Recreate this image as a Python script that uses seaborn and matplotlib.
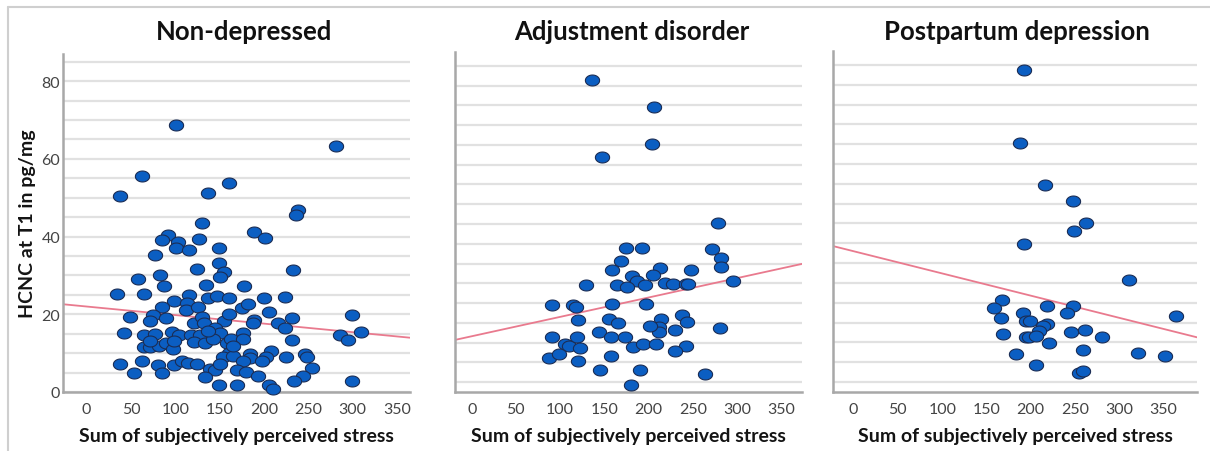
import numpy as np
import pandas as pd
import seaborn as sns
import matplotlib.pyplot as plt
from matplotlib.lines import Line2D
from matplotlib.ticker import MultipleLocator

# ======================
# DATA
# ======================

panel_titles = ["Non-depressed", "Adjustment disorder", "Postpartum depression"]
x_label = "Sum of subjectively perceived stress"
y_label = "HCNC at T1 in pg/mg"
x_ticks = [0, 50, 100, 150, 200, 250, 300, 350]
y_ticks = [0, 20, 40, 60, 80]

nondep_stress = [
    100.5, 280.8, 62.9, 37.3, 160.0, 137.0, 237.9, 236.4, 129.8, 91.5,
    85.1, 102.7, 101.2, 127.2, 115.5, 149.0, 188.9, 201.0, 76.8, 124.6,
    148.7, 154.7, 150.2, 82.4, 57.6, 233.0, 135.1, 87.7, 176.9, 33.9,
    64.4, 115.5, 137.0, 146.8, 160.0, 199.8, 223.6, 99.0, 113.7, 112.5,
    85.1, 126.1, 175.4, 182.5, 48.9, 74.9, 90.0, 71.5, 121.6, 129.8,
    132.9, 154.7, 160.0, 188.6, 187.8, 205.1, 231.8, 215.3, 223.6, 299.2,
    41.8, 64.4, 76.8, 96.0, 103.9, 117.4, 127.6, 145.3, 150.2, 176.5,
    285.7, 309.0, 295.1, 231.5, 64.4, 71.9, 81.7, 90.0, 97.1, 98.6,
    121.6, 133.6, 143.0, 158.4, 163.3, 175.8, 160.7, 154.3, 164.5, 183.7,
    184.4, 207.4, 202.5, 197.6, 176.1, 245.8, 248.8, 224.3, 37.3, 62.5,
    80.2, 99.0, 108.0, 114.4, 124.2, 53.4, 84.7, 139.3, 145.3, 150.5,
    169.7, 179.9, 133.2, 192.7, 254.4, 243.5, 234.1, 299.6, 149.0, 169.4,
    205.5, 210.4, 137.0, 71.9, 165.2,
]
nondep_hcnc = [
    68.8, 63.3, 55.6, 50.5, 53.9, 51.2, 46.8, 45.6, 43.5, 40.5,
    39.0, 38.5, 37.0, 39.4, 36.6, 37.0, 41.1, 39.7, 35.3, 31.7,
    33.3, 30.9, 29.7, 30.2, 29.2, 31.3, 27.6, 27.3, 27.4, 25.3,
    25.2, 25.0, 24.2, 24.7, 24.1, 24.2, 24.4, 23.3, 23.0, 21.2,
    21.9, 21.9, 21.6, 22.7, 19.4, 19.7, 19.0, 18.2, 17.8, 19.3,
    17.8, 18.3, 20.2, 18.5, 17.8, 20.7, 19.0, 17.8, 16.6, 19.9,
    15.2, 14.7, 14.9, 15.4, 14.7, 14.7, 14.8, 16.6, 15.2, 15.3,
    14.7, 15.5, 13.5, 13.3, 11.7, 11.7, 11.8, 12.7, 11.1, 13.0,
    12.8, 12.7, 13.7, 12.7, 13.6, 13.6, 10.1, 8.9, 9.2, 9.7,
    8.7, 10.5, 9.1, 8.0, 8.1, 9.9, 9.0, 8.9, 7.3, 8.1,
    6.9, 6.9, 8.1, 7.5, 7.3, 5.0, 4.8, 6.0, 5.6, 7.1,
    5.7, 5.2, 3.8, 4.0, 6.3, 4.2, 2.8, 2.8, 1.9, 1.9,
    1.7, 0.7, 15.7, 13.1, 11.8,
]

adjust_stress = [
    135.8, 206.0, 204.2, 147.5, 278.9, 174.7, 192.1, 271.7, 282.3, 168.7,
    158.5, 212.8, 282.3, 247.5, 181.1, 187.2, 204.5, 129.1, 164.9, 175.5,
    196.2, 219.2, 227.5, 241.9, 244.2, 295.5, 90.6, 114.7, 117.7, 158.9,
    197.0, 120.4, 155.5, 166.0, 213.6, 211.3, 211.9, 202.0, 237.7, 243.4,
    230.2, 280.4, 90.6, 105.7, 110.6, 118.9, 122.6, 143.8, 158.1, 173.6,
    183.0, 194.3, 208.3, 242.3, 230.2, 87.2, 98.5, 120.0, 157.4, 145.3,
    189.8, 180.0, 263.8,
]
adjust_hcnc = [
    76.3, 69.7, 60.3, 56.9, 40.3, 34.0, 34.0, 33.6, 31.5, 30.7,
    28.3, 28.9, 29.1, 28.3, 26.8, 25.6, 27.1, 24.5, 24.5, 24.0,
    24.5, 25.1, 24.7, 24.9, 24.7, 25.5, 19.6, 19.5, 19.0, 19.7,
    19.8, 15.6, 15.9, 15.0, 15.9, 13.9, 12.8, 14.2, 17.1, 15.1,
    13.1, 13.8, 11.3, 9.7, 9.2, 11.5, 8.7, 12.6, 11.4, 11.4,
    8.9, 9.7, 9.7, 9.2, 7.9, 6.2, 7.1, 5.4, 6.6, 3.0,
    3.0, -0.7, 2.0,
]

ppd_stress = [
    192.7, 188.2, 216.4, 247.6, 262.3, 249.2, 192.7, 310.5, 167.1, 158.8,
    218.3, 247.6, 191.2, 240.9, 364.3, 166.7, 194.1, 199.5, 218.7, 213.8,
    209.3, 168.6, 245.4, 261.2, 195.0, 198.0, 205.9, 280.8, 220.6, 258.9,
    321.0, 351.1, 183.7, 205.9, 254.4, 258.9,
]
ppd_hcnc = [
    78.7, 60.2, 49.6, 45.7, 40.2, 38.1, 34.8, 25.7, 20.6, 18.8,
    19.1, 19.3, 17.4, 17.4, 16.6, 16.1, 15.3, 15.3, 14.7, 14.1,
    13.0, 12.1, 12.7, 13.2, 11.4, 11.4, 11.5, 11.3, 9.8, 8.2,
    7.3, 6.6, 7.1, 4.4, 2.4, 2.9,
]

# linear fit lines (intercept, slope) as drawn in the figure
fit_intercepts = [22.0, 11.6, 33.0]
fit_slopes = [-0.022, 0.049, -0.056]

# ======================
# PLOT
# ======================

sns.set_theme(style="white")
plt.rcParams["font.family"] = ["Lato", "DejaVu Sans"]

fig = plt.figure(figsize=(12.1, 4.52), dpi=100)
W, H = 1210, 452

# axes boxes in pixels: left, right, top, bottom
boxes = [(63, 410, 55, 393), (455, 802, 53, 393), (833, 1197, 52, 393)]
xlims = [(-26.7, 364.7), (-18.9, 373.6), (-23.3, 387.7)]
ylims = [(0, 87), (-2.5, 83.5), (-2.5, 83.5)]
title_x = [244, 632, 1017]

groups = [
    (nondep_stress, nondep_hcnc),
    (adjust_stress, adjust_hcnc),
    (ppd_stress, ppd_hcnc),
]

# slightly wide ellipse marker, like the SPSS points
t = np.linspace(0, 2 * np.pi, 48)
ellipse = np.column_stack([1.3 * np.cos(t), np.sin(t)])

for i, (xs, ys) in enumerate(groups):
    l, r, top, bot = boxes[i]
    ax = fig.add_axes([l / W, 1 - bot / H, (r - l) / W, (bot - top) / H])
    df = pd.DataFrame({"stress": xs, "hcnc": ys})

    ax.axline((0, fit_intercepts[i]), slope=fit_slopes[i],
              color="#e97a8e", lw=1.3, zorder=2)
    sns.scatterplot(data=df, x="stress", y="hcnc", ax=ax,
                    marker=ellipse, s=105, color="#0b5ec2",
                    edgecolor="#1b2d55", linewidth=0.8,
                    clip_on=False, zorder=3)

    ax.set_xlim(*xlims[i])
    ax.set_ylim(*ylims[i])
    ax.set_xticks(x_ticks)
    ax.set_yticks(y_ticks)
    ax.yaxis.set_minor_locator(MultipleLocator(5))
    ax.grid(axis="y", which="both", color="#e1e1e1", lw=1.6, zorder=0)
    ax.set_axisbelow(True)
    ax.tick_params(which="both", length=0, labelsize=11.5, labelcolor="#444444")
    ax.tick_params(axis="x", pad=7)
    ax.tick_params(axis="y", pad=2)

    for side in ["top", "right"]:
        ax.spines[side].set_visible(False)
    for side in ["left", "bottom"]:
        ax.spines[side].set_color("#a8a8a8")
        ax.spines[side].set_linewidth(1.8)

    ax.set_xlabel(x_label, fontsize=14, fontweight="bold", color="#141414", labelpad=8)
    if i == 0:
        ax.set_ylabel(y_label, fontsize=14, fontweight="bold", color="#141414")
        ax.yaxis.set_label_coords(-0.078, 0.5)
    else:
        ax.set_ylabel("")
        ax.set_yticklabels([])

    fig.text(title_x[i] / W, 1 - 32 / H, panel_titles[i], ha="center", va="center",
             fontsize=18.5, fontweight="bold", color="#111111")

# thin frame lines (top and left) around the figure
fig.add_artist(Line2D([8 / W, 1], [1 - 8 / H, 1 - 8 / H], transform=fig.transFigure,
                      color="#cfcfcf", lw=1.5))
fig.add_artist(Line2D([8 / W, 8 / W], [0, 1 - 8 / H], transform=fig.transFigure,
                      color="#cfcfcf", lw=1.5))

fig.savefig("out.png", dpi=100)
